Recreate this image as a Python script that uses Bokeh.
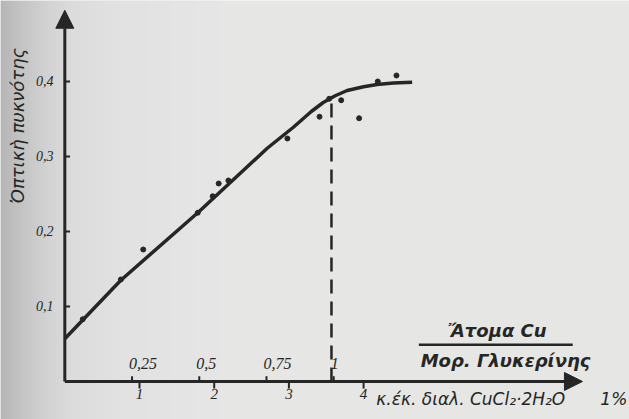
import numpy as np
from bokeh.plotting import figure
from bokeh.models import Label, Arrow, NormalHead
from bokeh.embed import file_html
from bokeh.resources import INLINE

# ---- data ----
# measured points: ml of 1% CuCl2·2H2O solution vs optical density
pts_ml = [0.24, 0.75, 1.05, 1.78, 1.98, 2.06, 2.19, 2.98, 3.41, 3.54, 3.70, 3.94, 4.19, 4.44]
pts_od = [0.083, 0.136, 0.176, 0.225, 0.247, 0.264, 0.268, 0.324, 0.353, 0.377, 0.375, 0.351, 0.400, 0.408]

# hand-drawn curve, read along its path
curve_ml = [0.0, 0.75, 1.78, 2.71, 3.06, 3.30, 3.46, 3.62, 3.78, 4.00, 4.18, 4.40, 4.65]
curve_od = [0.057, 0.135, 0.225, 0.311, 0.339, 0.360, 0.372, 0.381, 0.388, 0.393, 0.396, 0.398, 0.399]

# bottom scale (ml) and secondary scale (atoms Cu / mol glycerine)
ml_ticks = [1, 2, 3, 4]
ml_labels = ["1", "2", "3", "4"]
od_ticks = [0.1, 0.2, 0.3, 0.4]
od_labels = ["0,1", "0,2", "0,3", "0,4"]
ratio_ticks = [0.25, 0.5, 0.75, 1.0]
ratio_labels = ["0,25", "0,5", "0,75", "1"]
ml_per_ratio = 3.6          # 1 atom Cu per mol glycerine = 3.6 ml
equiv_ml = 3.57             # dashed line (equivalence point)
equiv_od = 0.376

PAPER = "#e6e6e4"
INK = "#262626"
FONT = "DejaVu Sans"

X_RANGE = (-0.861, 7.560)
Y_RANGE = (-0.0507, 0.508)

# the frame fills the whole figure; axes are drawn with glyphs in data units
p = figure(width=629, height=419, output_backend="svg", toolbar_location=None,
           x_range=X_RANGE, y_range=Y_RANGE, min_border=0)
p.background_fill_color = PAPER
p.border_fill_color = PAPER
p.outline_line_color = None
p.grid.grid_line_color = None
p.axis.visible = False

# darker paper shading towards the left edge of the scan (background style)
shade_w = 220
cols = np.arange(shade_w)
grey = np.interp(cols, [0, 20, 45, 70, 120, 219], [182, 196, 210, 220, 226, 230]).astype(np.uint32)
img = np.empty((1, shade_w), dtype=np.uint32)
img[0, :] = (255 << 24) | (grey << 16) | (grey << 8) | grey
span_x = (X_RANGE[1] - X_RANGE[0]) * shade_w / 629
p.image_rgba(image=[img], x=X_RANGE[0], y=Y_RANGE[0], dw=span_x, dh=Y_RANGE[1] - Y_RANGE[0],
             level="image")

# axis lines with arrow heads
x_axis_end = 6.93
y_axis_end = 0.495
p.add_layout(Arrow(x_start=0, y_start=0, x_end=x_axis_end, y_end=0,
                   line_color=INK, line_width=3,
                   end=NormalHead(size=18, fill_color=INK, line_color=INK)))
p.add_layout(Arrow(x_start=0, y_start=0, x_end=0, y_end=y_axis_end,
                   line_color=INK, line_width=3,
                   end=NormalHead(size=18, fill_color=INK, line_color=INK)))

# y ticks (inward) and labels
n = len(od_ticks)
p.segment(x0=[0] * n, y0=od_ticks, x1=[0.07] * n, y1=od_ticks, line_color=INK, line_width=2)
p.text(x=[-0.15] * n, y=od_ticks, text=od_labels, text_align="right", text_baseline="middle",
       text_font=FONT, text_font_style="italic", text_font_size="14px", text_color=INK)

# x ticks (outward, downward) and labels
m = len(ml_ticks)
p.segment(x0=ml_ticks, y0=[0] * m, x1=ml_ticks, y1=[-0.0095] * m, line_color=INK, line_width=2)
p.text(x=ml_ticks, y=[-0.0165] * m, text=ml_labels, text_align="center", text_baseline="middle",
       text_font=FONT, text_font_style="italic", text_font_size="15px", text_color=INK)

# secondary ratio scale, on the x axis
ratio_x = [r * ml_per_ratio for r in ratio_ticks]
k = len(ratio_ticks)
p.segment(x0=ratio_x, y0=[0] * k, x1=ratio_x, y1=[0.007] * k, line_color=INK, line_width=2)
p.text(x=ratio_x, y=[0.016] * k, text=ratio_labels, text_align="left", text_baseline="bottom",
       x_offset=-3, text_font_size="16px", text_font_style="italic", text_color=INK,
       text_font=FONT)

# dashed equivalence line
p.segment(x0=[equiv_ml], y0=[0], x1=[equiv_ml], y1=[equiv_od],
          line_color=INK, line_width=2.5, line_dash="14 8")

# curve and points
p.line(curve_ml, curve_od, line_color=INK, line_width=3.5)
p.scatter(pts_ml, pts_od, size=5, color=INK)

# labels
p.add_layout(Label(x=-0.633, y=0.341, text="Ὀπτικὴ πυκνότης", angle=np.pi / 2,
                   text_align="center", text_baseline="middle", text_font=FONT,
                   text_font_style="italic", text_font_size="18px", text_color=INK))
p.add_layout(Label(x=5.79, y=0.068, text="Ἄτομα Cu", text_align="center",
                   text_baseline="middle", text_font=FONT, text_font_style="bold italic",
                   text_font_size="18px", text_color=INK))
p.segment(x0=[4.74], y0=[0.049], x1=[6.80], y1=[0.049], line_color=INK, line_width=2.5)
p.add_layout(Label(x=5.90, y=0.028, text="Μορ. Γλυκερίνης", text_align="center",
                   text_baseline="middle", text_font=FONT, text_font_style="bold italic",
                   text_font_size="18px", text_color=INK))
p.add_layout(Label(x=4.17, y=-0.0235, text="κ.έκ. διαλ. CuCl₂·2H₂O", text_align="left",
                   text_baseline="middle", text_font=FONT, text_font_style="italic",
                   text_font_size="17px", text_color=INK))
p.add_layout(Label(x=7.17, y=-0.0235, text="1%", text_align="left",
                   text_baseline="middle", text_font=FONT, text_font_style="italic",
                   text_font_size="17px", text_color=INK))

open("out.html", "w").write(file_html(p, INLINE))
